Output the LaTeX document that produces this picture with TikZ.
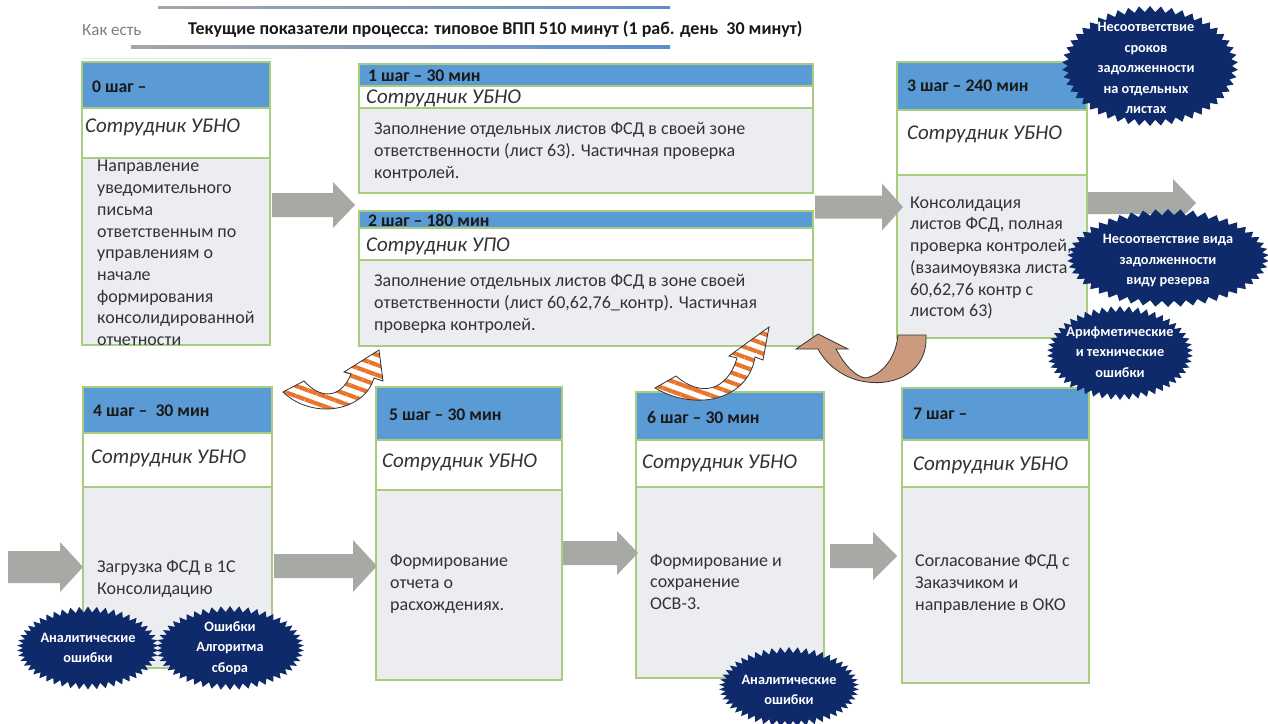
\documentclass[tikz,border=0pt]{standalone}
\usepackage{fontspec}
\setmainfont{Carlito}
\usetikzlibrary{shapes.symbols,patterns.meta}
\definecolor{hdr}{HTML}{5B9BD5}
\definecolor{bodyg}{HTML}{EBEDF0}
\definecolor{edgec}{HTML}{A9CC7E}
\definecolor{garr}{HTML}{A6A9A4}
\definecolor{navy}{HTML}{0E2A6B}
\definecolor{orng}{HTML}{E8752B}
\definecolor{brwn}{HTML}{CC9A7C}
\definecolor{lgray}{HTML}{7F7F7F}
\definecolor{lblue}{HTML}{5B8FD0}
\definecolor{txt}{HTML}{333333}
\tikzset{
 hdrtxt/.style={anchor=west, inner sep=0pt, font=\fontsize{17.7}{20}\selectfont\bfseries, text=black!90},
 roletxt/.style={anchor=west, inner sep=0pt, font=\fontsize{21}{24}\selectfont\itshape, text=txt},
 bodytxt/.style={anchor=west, inner sep=0pt, align=left, font=\fontsize{18}{21.7}\selectfont, text=txt},
 bursttxt/.style={inner sep=0pt, align=center, text=white, font=\fontsize{14.3}{20.5}\selectfont\bfseries},
 burst/.style={starburst, starburst points=50, starburst point height=6pt, random starburst=0, fill=navy, draw=none, inner sep=0pt},
 stripearrow/.style={draw=black!80, line width=0.8pt, preaction={fill=white}, pattern={Lines[angle=-20,distance=9.5pt,line width=4.2pt]}, pattern color=orng},
 brownarrow/.style={draw=black!80, line width=0.8pt, fill=brwn},
 boxline/.style={draw=edgec, line width=1.2pt},
}
\newcommand\stepblock[7]{%
 \fill[bodyg] (#2,#6) rectangle (#3,#7);
 \fill[white] (#2,#5) rectangle (#3,#6);
 \fill[hdr] (#2,#4) rectangle (#3,#5);
 \draw[boxline] (#2,#4) rectangle (#3,#7);
 \draw[boxline] (#2,#5) -- (#3,#5) (#2,#6) -- (#3,#6);
 \coordinate (#1) at ({(#2+#3)/2},{(#4+#7)/2});
}
\newcommand\grayarrow[6]{%
 \fill[garr] (#1,#4-#5) -- (#2,#4-#5) -- (#2,#4-#6) -- (#3,#4) -- (#2,#4+#6) -- (#2,#4+#5) -- (#1,#4+#5) -- cycle;
}
\begin{document}
\begin{tikzpicture}[x=1pt,y=-1pt]
\useasboundingbox (0,0) rectangle (1268,723);
\fill[white] (0,0) rectangle (1268,723);

% title
\shade[left color=lgray!70, middle color=orng, right color=lblue] (158,6) rectangle (670,8.5);
\shade[left color=lgray!70, middle color=orng, right color=lblue] (131,45.5) rectangle (670,48);
\fill[cyan!30!green!15] (82,57.5) rectangle (272,59);
\node[anchor=west, inner sep=0pt, font=\fontsize{17}{20}\selectfont, text=lgray] (asis) at (82,30) {Как есть};
\node[anchor=west, inner sep=0pt, font=\fontsize{18}{20}\selectfont\bfseries, text=black!90] (title) at (188,29) {Текущие показатели процесса: типовое ВПП 510 минут (1 раб. день\ \ 30 минут)};

% boxes
\stepblock{box0}{82}{270}{62}{108}{158}{345}
\stepblock{box1}{359}{813}{64}{86}{108}{193}
\stepblock{box2}{359}{813}{211}{228}{260}{346}
\stepblock{box3}{897}{1087}{62}{110}{175}{338}
\stepblock{box4}{83}{272}{387}{433}{487}{668}
\stepblock{box5}{376}{562}{387}{440}{490}{680}
\stepblock{box6}{636}{824}{392}{440}{487}{678}
\stepblock{box7}{902}{1089}{388}{440}{487}{683}

\node[hdrtxt] (h0) at (92,87) {0 шаг –};
\node[roletxt] (r0) at (85,127) {Сотрудник УБНО};
\node[bodytxt] (t0) at (97,253) {Направление\\уведомительного\\письма\\ответственным по\\управлениям о\\начале\\формирования\\консолидированной\\отчетности};

\node[hdrtxt] (h1) at (368,76) {1 шаг – 30 мин};
\node[roletxt] (r1) at (366,98) {Сотрудник УБНО};
\node[bodytxt] (t1) at (374,152) {Заполнение отдельных листов ФСД в своей зоне\\ответственности (лист 63). Частичная проверка\\контролей.};

\node[hdrtxt] (h2) at (368,220) {2 шаг – 180 мин};
\node[roletxt] (r2) at (366,246) {Сотрудник УПО};
\node[bodytxt] (t2) at (374,304) {Заполнение отдельных листов ФСД в зоне своей\\ответственности (лист 60,62,76\_контр). Частичная\\проверка контролей.};

\node[hdrtxt] (h3) at (907,86) {3 шаг – 240 мин};
\node[roletxt] (r3) at (907,134) {Сотрудник УБНО};
\node[bodytxt] (t3) at (910,258) {Консолидация\\листов ФСД, полная\\проверка контролей,\\(взаимоувязка листа\\60,62,76 контр с\\листом 63)};

\node[hdrtxt] (h4) at (93,411) {4 шаг –\ \ 30 мин};
\node[roletxt] (r4) at (91,458) {Сотрудник УБНО};
\node[bodytxt] (t4) at (97,579) {Загрузка ФСД в 1С\\Консолидацию};

\node[hdrtxt] (h5) at (389,415) {5 шаг – 30 мин};
\node[roletxt] (r5) at (382,462) {Сотрудник УБНО};
\node[bodytxt] (t5) at (390,584) {Формирование\\отчета о\\расхождениях.};

\node[hdrtxt] (h6) at (647,418) {6 шаг – 30 мин};
\node[roletxt] (r6) at (642,463) {Сотрудник УБНО};
\node[bodytxt] (t6) at (650,582) {Формирование и\\сохранение\\ОСВ-3.};

\node[hdrtxt] (h7) at (913,414) {7 шаг –};
\node[roletxt] (r7) at (913,465) {Сотрудник УБНО};
\node[bodytxt] (t7) at (915,584) {Согласование ФСД с\\Заказчиком и\\направление в ОКО};

% gray block arrows
\grayarrow{272}{333}{355}{205}{12}{23}
\grayarrow{815}{882}{903}{207}{11.5}{23.5}
\grayarrow{1088}{1173}{1196}{203}{11}{24}
\grayarrow{8}{60}{83}{567}{16}{25}
\grayarrow{274}{353}{377}{566}{12}{26}
\grayarrow{563}{617}{638}{553}{12}{22}
\grayarrow{830}{873}{897}{556}{12}{24}

% curved arrows
\draw[stripearrow] (283,392) -- (304,381) .. controls (322,401) and (342,397) .. (351,374) -- (344,372) -- (379,350) -- (383,381) -- (374,378) .. controls (364,412) and (312,420) .. cycle;
\draw[stripearrow] (655,388) -- (676,376) .. controls (700,397) and (727,392) .. (737,358) -- (729,356) -- (769,327) -- (763,360) -- (755,357) .. controls (748,400) and (696,412) .. cycle;
\draw[brownarrow] (898,335) -- (926,335) .. controls (928,372) and (895,386) .. (867,382) .. controls (843,379) and (826,364) .. (818,349) -- (796,349) -- (818,334) -- (848,349) -- (836,349) .. controls (845,366) and (856,377) .. (866,378) .. controls (884,374) and (896,356) .. cycle;

% bursts
\node[burst, minimum width=176pt, minimum height=120pt] (s1) at (1150,66) {};
\node[bursttxt] (s1t) at (1146,68) {Несоответствие\\сроков\\задолженности\\на отдельных\\листах};
\node[burst, minimum width=202pt, minimum height=98pt] (s2) at (1168,258) {};
\node[bursttxt] (s2t) at (1168,261) {Несоответствие вида\\задолженности\\виду резерва};
\node[burst, minimum width=146pt, minimum height=94pt] (s3) at (1120,353) {};
\node[bursttxt] (s3t) at (1120,352) {Арифметические\\и технические\\ошибки};
\node[burst, minimum width=142pt, minimum height=83pt] (s4) at (88,648) {};
\node[bursttxt] (s4t) at (88,648) {Аналитические\\ошибки};
\node[burst, minimum width=148pt, minimum height=84pt] (s5) at (230,648) {};
\node[bursttxt] (s5t) at (230,648) {Ошибки\\Алгоритма\\сбора};
\node[burst, minimum width=140pt, minimum height=80pt] (s6) at (789,687) {};
\node[bursttxt] (s6t) at (789,690) {Аналитические\\ошибки};
\end{tikzpicture}
\end{document}
